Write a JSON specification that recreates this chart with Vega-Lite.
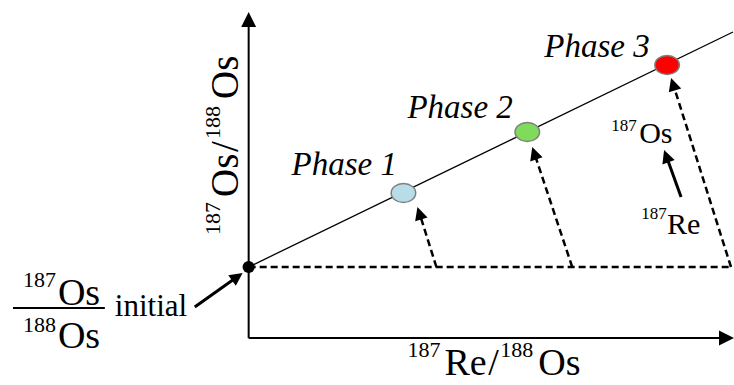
{
  "$schema": "https://vega.github.io/schema/vega-lite/v6.json",
  "width": 734,
  "height": 385,
  "autosize": {"type": "fit", "contains": "padding"},
  "padding": 0,
  "background": "white",
  "config": {"view": {"stroke": null}, "text": {"font": "Liberation Serif, Times New Roman, DejaVu Serif, serif"}},
  "datasets": {
    "segs": [
      {"x": 0, "y": 0, "x2": 0, "y2": 6.24, "kind": "axis"},
      {"x": 0, "y": 0, "x2": 9.5, "y2": 0, "kind": "axis"},
      {"x": 0, "y": 1.42, "x2": 9.7, "y2": 6.12, "kind": "iso"},
      {"x": 0, "y": 1.42, "x2": 9.66, "y2": 1.42, "kind": "dash"},
      {"x": 3.76, "y": 1.42, "x2": 3.42, "y2": 2.5, "kind": "dash"},
      {"x": 6.48, "y": 1.42, "x2": 5.72, "y2": 3.7, "kind": "dash"},
      {"x": 9.66, "y": 1.42, "x2": 8.5, "y2": 5.08, "kind": "dash"},
      {"x": -1.08, "y": 0.62, "x2": -0.22, "y2": 1.23, "kind": "solid"},
      {"x": 8.66, "y": 2.82, "x2": 8.36, "y2": 3.65, "kind": "solid"},
      {"x": -4.72, "y": 0.6, "x2": -2.88, "y2": 0.6, "kind": "frac"}
    ],
    "heads": [
      {"x": 0, "y": 6.52, "angle": 0, "kind": "axis"},
      {"x": 9.72, "y": 0, "angle": 90, "kind": "axis"},
      {"x": 3.38, "y": 2.62, "angle": -17.6, "kind": "small"},
      {"x": 5.68, "y": 3.82, "angle": -18.4, "kind": "small"},
      {"x": 8.46, "y": 5.2, "angle": -17.6, "kind": "small"},
      {"x": -0.12, "y": 1.3, "angle": 54.7, "kind": "small"},
      {"x": 8.32, "y": 3.76, "angle": -19.9, "kind": "small"}
    ],
    "phases": [
      {"x": 3.1, "y": 2.9, "phase": "Phase 1"},
      {"x": 5.58, "y": 4.12, "phase": "Phase 2"},
      {"x": 8.38, "y": 5.46, "phase": "Phase 3"}
    ],
    "origin": [{"x": 0, "y": 1.42}],
    "phaseLabels": [
      {"x": 0.86, "y": 3.26, "t": "Phase 1"},
      {"x": 3.18, "y": 4.4, "t": "Phase 2"},
      {"x": 5.92, "y": 5.62, "t": "Phase 3"}
    ],
    "texts": [
      {"x": -4.52, "y": 1.02, "t": "187", "role": "sup"},
      {"x": -3.82, "y": 0.66, "t": "Os", "role": "big"},
      {"x": -4.52, "y": 0.12, "t": "188", "role": "sup"},
      {"x": -3.82, "y": -0.2, "t": "Os", "role": "big"},
      {"x": -2.68, "y": 0.44, "t": "initial", "role": "init"},
      {"x": 3.18, "y": -0.38, "t": "187", "role": "sup"},
      {"x": 3.92, "y": -0.74, "t": "Re", "role": "big"},
      {"x": 4.8, "y": -0.74, "t": "/", "role": "big"},
      {"x": 5.04, "y": -0.38, "t": "188", "role": "sup"},
      {"x": 5.8, "y": -0.74, "t": "Os", "role": "big"},
      {"x": 7.26, "y": 4.14, "t": "187", "role": "midsup"},
      {"x": 7.82, "y": 3.9, "t": "Os", "role": "mid"},
      {"x": 7.86, "y": 2.38, "t": "187", "role": "midsup"},
      {"x": 8.38, "y": 2.08, "t": "Re", "role": "mid"}
    ],
    "rotTexts": [
      {"x": -0.58, "y": 2.06, "t": "187", "role": "sup"},
      {"x": -0.22, "y": 2.82, "t": "Os", "role": "big"},
      {"x": -0.22, "y": 3.72, "t": "/", "role": "big"},
      {"x": -0.58, "y": 3.98, "t": "188", "role": "sup"},
      {"x": -0.22, "y": 4.78, "t": "Os", "role": "big"}
    ]
  },
  "encoding": {
    "x": {"field": "x", "type": "quantitative", "scale": {"domain": [-4.98, 9.7], "nice": false, "zero": false}, "axis": null},
    "y": {"field": "y", "type": "quantitative", "scale": {"domain": [-0.94, 6.76], "nice": false, "zero": false}, "axis": null}
  },
  "layer": [
    {
      "data": {"name": "segs"},
      "transform": [{"filter": "datum.kind === 'dash'"}],
      "mark": {"type": "rule", "color": "black", "strokeWidth": 2.5, "strokeDash": [7, 4], "clip": false},
      "encoding": {"x2": {"field": "x2"}, "y2": {"field": "y2"}}
    },
    {
      "data": {"name": "segs"},
      "transform": [{"filter": "datum.kind === 'axis' || datum.kind === 'frac'"}],
      "mark": {"type": "rule", "color": "black", "strokeWidth": 2, "clip": false},
      "encoding": {"x2": {"field": "x2"}, "y2": {"field": "y2"}}
    },
    {
      "data": {"name": "segs"},
      "transform": [{"filter": "datum.kind === 'iso'"}],
      "mark": {"type": "rule", "color": "black", "strokeWidth": 1.3, "clip": false},
      "encoding": {"x2": {"field": "x2"}, "y2": {"field": "y2"}}
    },
    {
      "data": {"name": "segs"},
      "transform": [{"filter": "datum.kind === 'solid'"}],
      "mark": {"type": "rule", "color": "black", "strokeWidth": 3, "clip": false},
      "encoding": {"x2": {"field": "x2"}, "y2": {"field": "y2"}}
    },
    {
      "data": {"name": "heads"},
      "transform": [{"filter": "datum.kind === 'axis'"}],
      "mark": {"type": "point", "shape": "M0,0L-0.5,1L0.5,1Z", "filled": true, "color": "black", "opacity": 1, "strokeWidth": 0, "size": 900, "clip": false},
      "encoding": {"angle": {"field": "angle", "type": "quantitative", "scale": null}}
    },
    {
      "data": {"name": "heads"},
      "transform": [{"filter": "datum.kind === 'small'"}],
      "mark": {"type": "point", "shape": "M0,0L-0.5,1L0.5,1Z", "filled": true, "color": "black", "opacity": 1, "strokeWidth": 0, "size": 676, "clip": false},
      "encoding": {"angle": {"field": "angle", "type": "quantitative", "scale": null}}
    },
    {
      "data": {"name": "origin"},
      "mark": {"type": "point", "shape": "circle", "filled": true, "color": "black", "opacity": 1, "size": 150}
    },
    {
      "data": {"name": "phases"},
      "mark": {"type": "point", "shape": "M-1,0A1,0.78,0,1,1,1,0A1,0.78,0,1,1,-1,0Z", "filled": true, "opacity": 1, "stroke": "#7f7f7f", "strokeWidth": 1.5, "size": 600},
      "encoding": {
        "fill": {"field": "phase", "type": "nominal", "scale": {"domain": ["Phase 1", "Phase 2", "Phase 3"], "range": ["#b7dee8", "#7fdb5c", "#ff0000"]}, "legend": null}
      }
    },
    {
      "data": {"name": "phaseLabels"},
      "mark": {"type": "text", "align": "left", "baseline": "alphabetic", "fontStyle": "italic", "fontSize": 33, "color": "black"},
      "encoding": {"text": {"field": "t"}}
    },
    {
      "data": {"name": "texts"},
      "transform": [{"filter": "datum.role === 'big'"}],
      "mark": {"type": "text", "align": "left", "baseline": "alphabetic", "fontSize": 38, "color": "black"},
      "encoding": {"text": {"field": "t"}}
    },
    {
      "data": {"name": "texts"},
      "transform": [{"filter": "datum.role === 'sup'"}],
      "mark": {"type": "text", "align": "left", "baseline": "alphabetic", "fontSize": 22, "color": "black"},
      "encoding": {"text": {"field": "t"}}
    },
    {
      "data": {"name": "texts"},
      "transform": [{"filter": "datum.role === 'init'"}],
      "mark": {"type": "text", "align": "left", "baseline": "alphabetic", "fontSize": 31, "color": "black"},
      "encoding": {"text": {"field": "t"}}
    },
    {
      "data": {"name": "texts"},
      "transform": [{"filter": "datum.role === 'mid'"}],
      "mark": {"type": "text", "align": "left", "baseline": "alphabetic", "fontSize": 30, "color": "black"},
      "encoding": {"text": {"field": "t"}}
    },
    {
      "data": {"name": "texts"},
      "transform": [{"filter": "datum.role === 'midsup'"}],
      "mark": {"type": "text", "align": "left", "baseline": "alphabetic", "fontSize": 17, "color": "black"},
      "encoding": {"text": {"field": "t"}}
    },
    {
      "data": {"name": "rotTexts"},
      "transform": [{"filter": "datum.role === 'big'"}],
      "mark": {"type": "text", "align": "left", "baseline": "alphabetic", "fontSize": 39, "color": "black", "angle": 270},
      "encoding": {"text": {"field": "t"}}
    },
    {
      "data": {"name": "rotTexts"},
      "transform": [{"filter": "datum.role === 'sup'"}],
      "mark": {"type": "text", "align": "left", "baseline": "alphabetic", "fontSize": 22, "color": "black", "angle": 270},
      "encoding": {"text": {"field": "t"}}
    }
  ]
}
